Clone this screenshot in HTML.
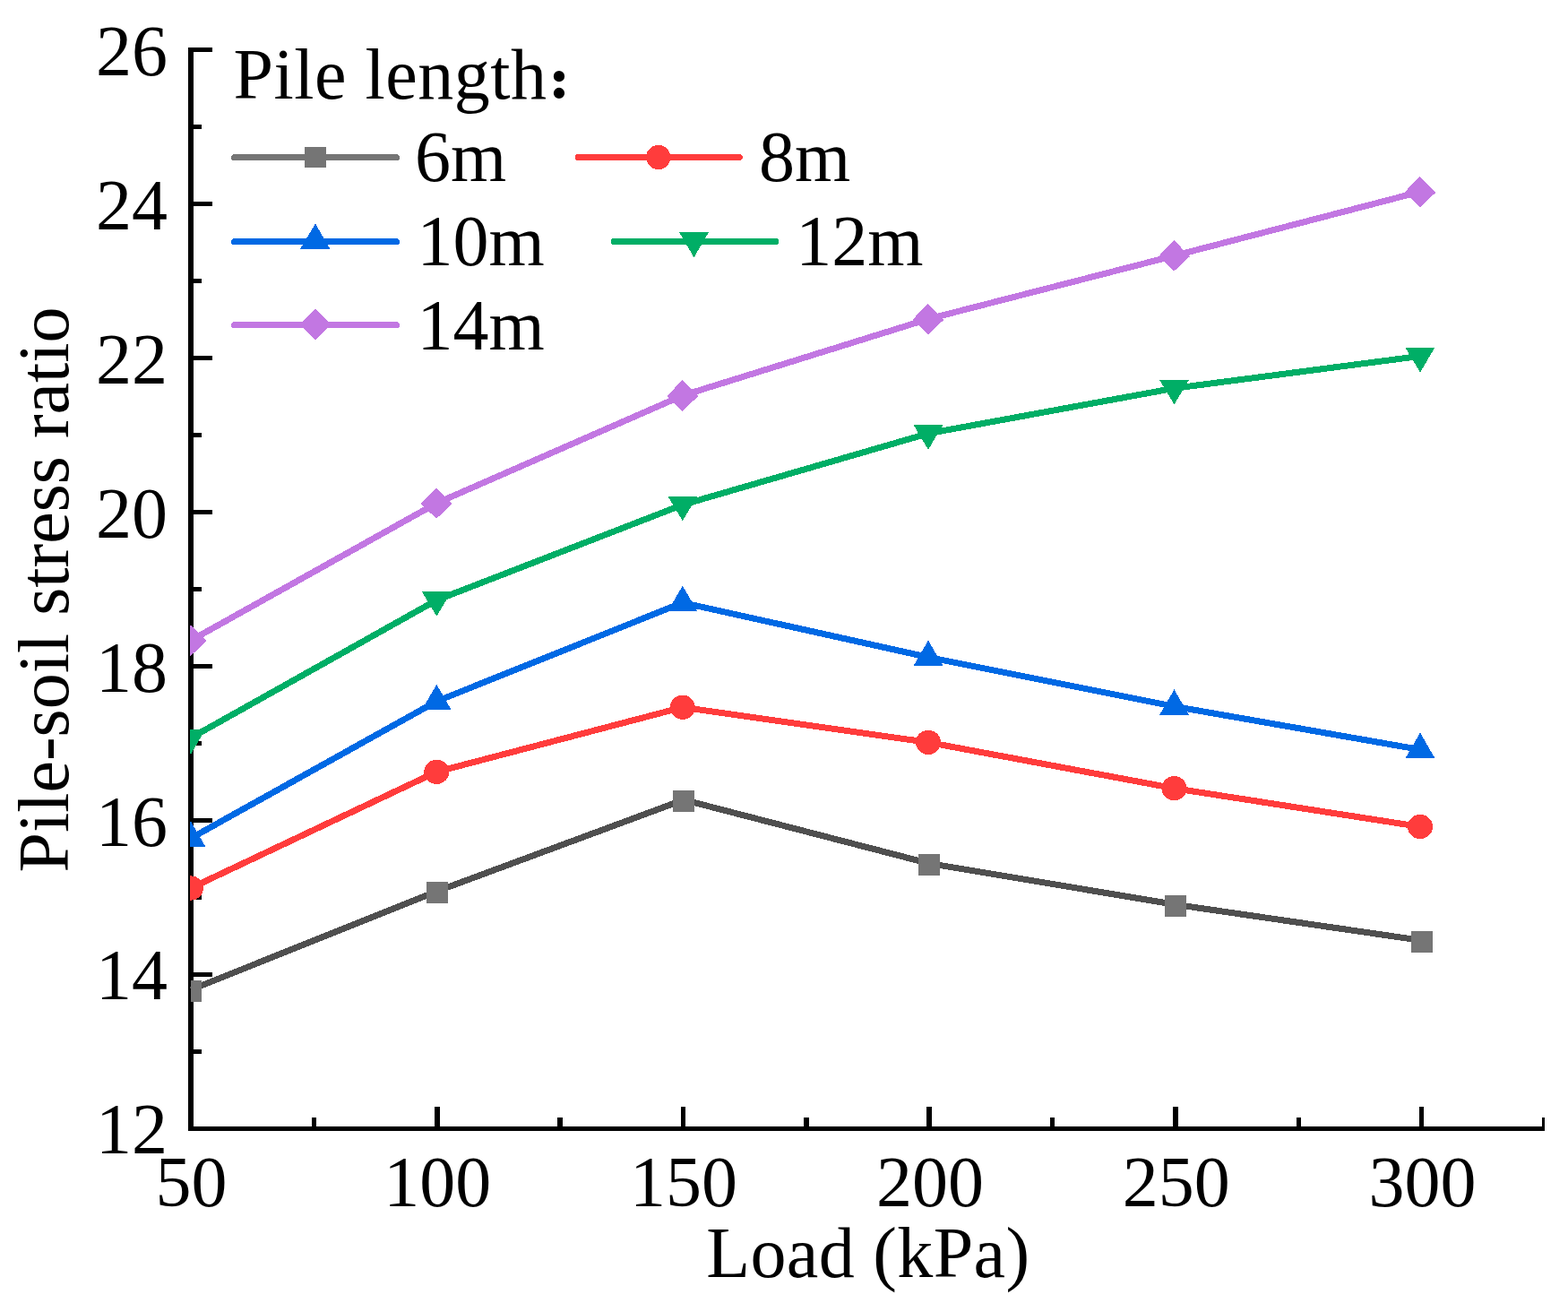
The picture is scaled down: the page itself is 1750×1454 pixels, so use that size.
<!DOCTYPE html>
<html lang="en">
<head>
<meta charset="utf-8">
<title>Pile-soil stress ratio vs. load</title>
<style>
html,body{margin:0;padding:0;background:#fff;}
body{width:1750px;height:1454px;overflow:hidden;}
svg{display:block;}
text{font-family:"Liberation Serif", "Noto Serif CJK SC", serif;font-size:80px;fill:#000;}
</style>
</head>
<body>
<svg width="1750" height="1454" viewBox="0 0 1750 1454">
<rect x="0" y="0" width="1750" height="1454" fill="#fff"/>
<defs><clipPath id="plot"><rect x="212" y="0" width="1538" height="1262"/></clipPath></defs>
<g id="axes" fill="#000" shape-rendering="crispEdges">
<rect x="210" y="53" width="6" height="1209"/>
<rect x="210" y="1257" width="1514" height="5"/>
<rect x="210" y="53" width="27" height="5"/>
<rect x="210" y="139" width="15" height="5"/>
<rect x="210" y="225" width="27" height="5"/>
<rect x="210" y="311" width="15" height="5"/>
<rect x="210" y="397" width="27" height="5"/>
<rect x="210" y="483" width="15" height="5"/>
<rect x="210" y="569" width="27" height="5"/>
<rect x="210" y="655" width="15" height="5"/>
<rect x="210" y="741" width="27" height="5"/>
<rect x="210" y="827" width="15" height="5"/>
<rect x="210" y="913" width="27" height="5"/>
<rect x="210" y="999" width="15" height="5"/>
<rect x="210" y="1085" width="27" height="5"/>
<rect x="210" y="1171" width="15" height="5"/>
<rect x="348" y="1247" width="5" height="15"/>
<rect x="485" y="1235" width="6" height="27"/>
<rect x="622" y="1247" width="6" height="15"/>
<rect x="760" y="1235" width="5" height="27"/>
<rect x="897" y="1247" width="6" height="15"/>
<rect x="1034" y="1235" width="6" height="27"/>
<rect x="1172" y="1247" width="5" height="15"/>
<rect x="1309" y="1235" width="6" height="27"/>
<rect x="1447" y="1247" width="5" height="15"/>
<rect x="1584" y="1235" width="5" height="27"/>
<rect x="1721" y="1247" width="3" height="15"/>
</g>
<g id="ylabels" text-anchor="end">
<text x="187" y="83.9">26</text>
<text x="187" y="255.9">24</text>
<text x="187" y="427.9">22</text>
<text x="187" y="600.3">20</text>
<text x="187" y="772.3">18</text>
<text x="187" y="944">16</text>
<text x="187" y="1115.2">14</text>
<text x="187" y="1287.2">12</text>
</g>
<g id="xlabels" text-anchor="middle">
<text x="213.5" y="1345.8">50</text>
<text x="488.3" y="1345.8">100</text>
<text x="763.1" y="1345.8">150</text>
<text x="1037.9" y="1345.8">200</text>
<text x="1312.7" y="1345.8">250</text>
<text x="1587.5" y="1345.8">300</text>
</g>
<text x="968.8" y="1424.5" text-anchor="middle" letter-spacing="0.35">Load (kPa)</text>
<text transform="translate(76 658) rotate(-90)" text-anchor="middle">Pile-soil stress ratio</text>
<g id="lines" fill="none" stroke-width="7" stroke-linejoin="round" stroke-linecap="butt" clip-path="url(#plot)" shape-rendering="crispEdges">
<polyline points="213,1104.5 488,994.4 763,892.5 1037,963.5 1312,1009.4 1587,1049.5" stroke="#4f4f4f"/>
<polyline points="213,991 487.3,861.3 761.8,789.3 1036,828.4 1310.5,879.7 1585,922.5" stroke="#ff3c3c"/>
<polyline points="213,935.4 487.3,782.6 761.8,672.5 1036,733.4 1310.5,788.3 1585,836.5" stroke="#0069e4"/>
<polyline points="213,823.4 487.3,669.7 761.8,563.3 1036,483.7 1310.5,433.3 1585,397.4" stroke="#00ae66"/>
<polyline points="213,714.7 487.3,561.5 761.8,441.4 1036,356 1310.5,285.4 1585,214" stroke="#c277e2"/>
</g>
<g id="markers" clip-path="url(#plot)" shape-rendering="crispEdges">
<rect x="213" y="1094" width="12" height="24" fill="#757575"/>
<rect x="476" y="983.9" width="24" height="24" fill="#757575"/>
<rect x="751" y="882" width="24" height="24" fill="#757575"/>
<rect x="1025" y="953" width="24" height="24" fill="#757575"/>
<rect x="1300" y="998.9" width="24" height="24" fill="#757575"/>
<rect x="1575" y="1039" width="24" height="24" fill="#757575"/>
<ellipse cx="213" cy="991" rx="14" ry="13.6" fill="#ff3c3c"/>
<ellipse cx="487.3" cy="861.3" rx="14" ry="13.6" fill="#ff3c3c"/>
<ellipse cx="761.8" cy="789.3" rx="14" ry="13.6" fill="#ff3c3c"/>
<ellipse cx="1036" cy="828.4" rx="14" ry="13.6" fill="#ff3c3c"/>
<ellipse cx="1310.5" cy="879.7" rx="14" ry="13.6" fill="#ff3c3c"/>
<ellipse cx="1585" cy="922.5" rx="14" ry="13.6" fill="#ff3c3c"/>
<polygon points="213,916.5 229.4,944.9 196.6,944.9" fill="#0069e4"/>
<polygon points="487.3,763.7 503.7,792.1 470.9,792.1" fill="#0069e4"/>
<polygon points="761.8,653.6 778.2,682 745.4,682" fill="#0069e4"/>
<polygon points="1036,714.5 1052.4,742.9 1019.6,742.9" fill="#0069e4"/>
<polygon points="1310.5,769.4 1326.9,797.8 1294.1,797.8" fill="#0069e4"/>
<polygon points="1585,817.6 1601.4,846 1568.6,846" fill="#0069e4"/>
<polygon points="213,841.4 229.4,814 196.6,814" fill="#00ae66"/>
<polygon points="487.3,687.7 503.7,660.3 470.9,660.3" fill="#00ae66"/>
<polygon points="761.8,581.3 778.2,553.9 745.4,553.9" fill="#00ae66"/>
<polygon points="1036,501.7 1052.4,474.3 1019.6,474.3" fill="#00ae66"/>
<polygon points="1310.5,451.3 1326.9,423.9 1294.1,423.9" fill="#00ae66"/>
<polygon points="1585,415.4 1601.4,388 1568.6,388" fill="#00ae66"/>
<polygon points="212.7,697.4 230.5,715.4 212.7,732 195.5,715.4" fill="#c277e2"/>
<polygon points="487,544.2 504.8,562.2 487,578.8 469.8,562.2" fill="#c277e2"/>
<polygon points="761.5,424.1 779.3,442.1 761.5,458.7 744.3,442.1" fill="#c277e2"/>
<polygon points="1035.7,338.7 1053.5,356.7 1035.7,373.3 1018.5,356.7" fill="#c277e2"/>
<polygon points="1310.2,268.1 1328,286.1 1310.2,302.7 1293,286.1" fill="#c277e2"/>
<polygon points="1584.7,196.7 1602.5,214.7 1584.7,231.3 1567.5,214.7" fill="#c277e2"/>
</g>
<g id="legend">
<text x="260.6" y="109.9" letter-spacing="0.5">Pile length</text>
<text x="610.2" y="108.9" style="font-size:48px;font-weight:900" stroke="#000" stroke-width="2.4" stroke-linejoin="round">：</text>
<g shape-rendering="crispEdges">
<line x1="261.5" y1="175.5" x2="442.5" y2="175.5" stroke="#757575" stroke-width="7" stroke-linecap="round"/>
<rect x="340" y="164" width="24" height="23" fill="#757575"/>
<line x1="645.1" y1="175.5" x2="825.3" y2="175.5" stroke="#ff3c3c" stroke-width="7" stroke-linecap="round"/>
<circle cx="734.7" cy="175.5" r="13.6" fill="#ff3c3c"/>
<line x1="261.5" y1="269.5" x2="442.5" y2="269.5" stroke="#0069e4" stroke-width="7" stroke-linecap="round"/>
<polygon points="352,249.6 368.4,278 335,278" fill="#0069e4"/>
<line x1="685.1" y1="269.5" x2="865.7" y2="269.5" stroke="#00ae66" stroke-width="7" stroke-linecap="round"/>
<polygon points="774.5,287.3 758,259 791.1,259" fill="#00ae66"/>
<line x1="261.5" y1="362.5" x2="442.5" y2="362.5" stroke="#c277e2" stroke-width="7" stroke-linecap="round"/>
<polygon points="352,344.8 369.3,362.2 352,379.3 334.7,362.2" fill="#c277e2"/>
</g>
<text x="463" y="202.3">6m</text>
<text x="847" y="202.3">8m</text>
<text x="465.5" y="295.8">10m</text>
<text x="888.3" y="295.8">12m</text>
<text x="465.5" y="390">14m</text>
</g>
</svg>
</body>
</html>
